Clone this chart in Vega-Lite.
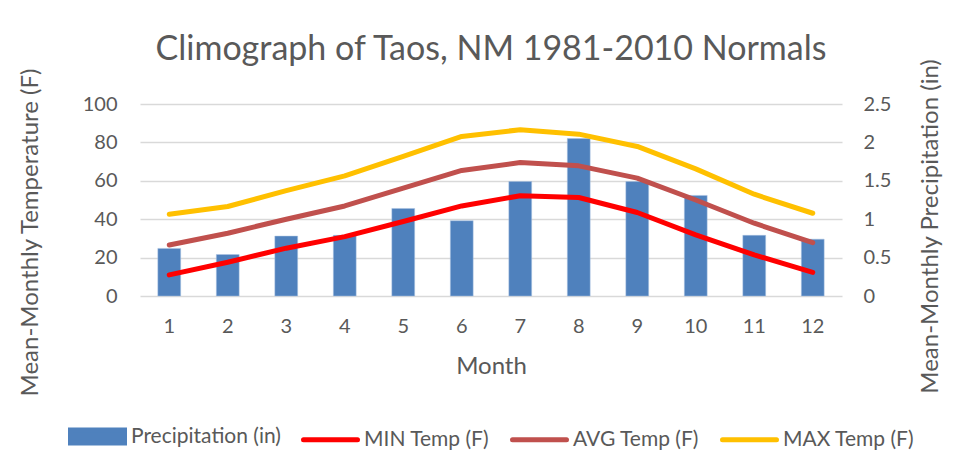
{
  "$schema": "https://vega.github.io/schema/vega-lite/v6.json",
  "width": 702,
  "height": 192,
  "autosize": "none",
  "padding": {"left": 140, "top": 104, "right": 112, "bottom": 173},
  "background": "white",
  "title": {
    "text": "Climograph of Taos, NM 1981-2010 Normals",
    "font": "Lato",
    "fontSize": 34,
    "fontWeight": "normal",
    "color": "#595959",
    "anchor": "middle",
    "offset": 40,
    "dy": 49
  },
  "data": {
    "values": [
      {"month": 1, "series": "Precipitation (in)", "value": 0.62},
      {"month": 2, "series": "Precipitation (in)", "value": 0.54},
      {"month": 3, "series": "Precipitation (in)", "value": 0.78},
      {"month": 4, "series": "Precipitation (in)", "value": 0.79},
      {"month": 5, "series": "Precipitation (in)", "value": 1.14},
      {"month": 6, "series": "Precipitation (in)", "value": 0.98},
      {"month": 7, "series": "Precipitation (in)", "value": 1.49},
      {"month": 8, "series": "Precipitation (in)", "value": 2.05},
      {"month": 9, "series": "Precipitation (in)", "value": 1.49},
      {"month": 10, "series": "Precipitation (in)", "value": 1.31},
      {"month": 11, "series": "Precipitation (in)", "value": 0.79},
      {"month": 12, "series": "Precipitation (in)", "value": 0.74},
      {"month": 1, "series": "MIN Temp (F)", "value": 11.0},
      {"month": 2, "series": "MIN Temp (F)", "value": 17.6},
      {"month": 3, "series": "MIN Temp (F)", "value": 24.9},
      {"month": 4, "series": "MIN Temp (F)", "value": 30.9},
      {"month": 5, "series": "MIN Temp (F)", "value": 38.8},
      {"month": 6, "series": "MIN Temp (F)", "value": 46.9},
      {"month": 7, "series": "MIN Temp (F)", "value": 52.2},
      {"month": 8, "series": "MIN Temp (F)", "value": 51.3},
      {"month": 9, "series": "MIN Temp (F)", "value": 43.5},
      {"month": 10, "series": "MIN Temp (F)", "value": 31.8},
      {"month": 11, "series": "MIN Temp (F)", "value": 21.4},
      {"month": 12, "series": "MIN Temp (F)", "value": 12.3},
      {"month": 1, "series": "AVG Temp (F)", "value": 26.6},
      {"month": 2, "series": "AVG Temp (F)", "value": 32.7},
      {"month": 3, "series": "AVG Temp (F)", "value": 40.0},
      {"month": 4, "series": "AVG Temp (F)", "value": 46.9},
      {"month": 5, "series": "AVG Temp (F)", "value": 56.2},
      {"month": 6, "series": "AVG Temp (F)", "value": 65.4},
      {"month": 7, "series": "AVG Temp (F)", "value": 69.5},
      {"month": 8, "series": "AVG Temp (F)", "value": 67.8},
      {"month": 9, "series": "AVG Temp (F)", "value": 61.4},
      {"month": 10, "series": "AVG Temp (F)", "value": 50.0},
      {"month": 11, "series": "AVG Temp (F)", "value": 37.9},
      {"month": 12, "series": "AVG Temp (F)", "value": 27.8},
      {"month": 1, "series": "MAX Temp (F)", "value": 42.6},
      {"month": 2, "series": "MAX Temp (F)", "value": 46.6},
      {"month": 3, "series": "MAX Temp (F)", "value": 54.9},
      {"month": 4, "series": "MAX Temp (F)", "value": 62.6},
      {"month": 5, "series": "MAX Temp (F)", "value": 72.7},
      {"month": 6, "series": "MAX Temp (F)", "value": 83.1},
      {"month": 7, "series": "MAX Temp (F)", "value": 86.6},
      {"month": 8, "series": "MAX Temp (F)", "value": 84.3},
      {"month": 9, "series": "MAX Temp (F)", "value": 77.9},
      {"month": 10, "series": "MAX Temp (F)", "value": 66.2},
      {"month": 11, "series": "MAX Temp (F)", "value": 53.0},
      {"month": 12, "series": "MAX Temp (F)", "value": 43.1}
    ]
  },
  "encoding": {
    "x": {
      "field": "month",
      "type": "ordinal",
      "scale": {"paddingInner": 0.61, "paddingOuter": 0.305},
      "axis": {
        "title": "Month",
        "labelAngle": 0,
        "domain": false,
        "ticks": false,
        "labelPadding": 20,
        "titlePadding": 18
      }
    },
    "color": {
      "field": "series",
      "type": "nominal",
      "scale": {
        "domain": ["Precipitation (in)", "MIN Temp (F)", "AVG Temp (F)", "MAX Temp (F)"],
        "range": ["#4F81BD", "#FF0000", "#C0504D", "#FFC000"]
      },
      "legend": {
        "title": null,
        "orient": "none",
        "direction": "horizontal",
        "legendX": -72,
        "legendY": 303,
        "symbolSize": 2916,
        "symbolStrokeWidth": 5,
        "labelOffset": 4,
        "columnPadding": 12,
        "labelFont": "Lato",
        "labelFontSize": 21,
        "labelColor": "#595959",
        "encode": {
          "symbols": {
            "update": {
              "shape": {"signal": "datum.value == 'Precipitation (in)' ? 'M-1,-0.24H1V0.24H-1Z' : 'M-1,0H1'"},
              "fill": {"signal": "datum.value == 'Precipitation (in)' ? '#4F81BD' : 'transparent'"},
              "stroke": {"signal": "datum.value == 'Precipitation (in)' ? 'transparent' : (datum.value == 'MIN Temp (F)' ? '#FF0000' : (datum.value == 'AVG Temp (F)' ? '#C0504D' : '#FFC000'))"},
              "strokeWidth": {"value": 5},
              "strokeCap": {"value": "round"},
              "opacity": {"value": 1}
            }
          }
        }
      }
    }
  },
  "layer": [
    {
      "transform": [{"filter": "datum.series == 'Precipitation (in)'"}],
      "mark": {"type": "bar", "stroke": "#A9C1E0", "strokeWidth": 0.5},
      "encoding": {
        "y": {
          "field": "value",
          "type": "quantitative",
          "scale": {"domain": [0, 2.5]},
          "axis": {
            "orient": "right",
            "title": "Mean-Monthly Precipitation (in)",
            "values": [0, 0.5, 1, 1.5, 2, 2.5],
            "format": ".1~f",
            "grid": false,
            "domain": false,
            "ticks": false,
            "labelPadding": 21,
            "titleAngle": -90,
            "titleX": 88,
            "titleY": 122,
            "titleAlign": "center",
            "titleBaseline": "middle"
          }
        }
      }
    },
    {
      "transform": [{"filter": "datum.series != 'Precipitation (in)'"}],
      "mark": {"type": "line", "strokeWidth": 5, "strokeCap": "round", "strokeJoin": "round"},
      "encoding": {
        "y": {
          "field": "value",
          "type": "quantitative",
          "scale": {"domain": [0, 100]},
          "axis": {
            "orient": "left",
            "title": "Mean-Monthly Temperature (F)",
            "values": [0, 20, 40, 60, 80, 100],
            "grid": true,
            "domain": false,
            "ticks": false,
            "labelPadding": 23,
            "titleAngle": -90,
            "titleX": -110,
            "titleY": 128,
            "titleAlign": "center",
            "titleBaseline": "middle"
          }
        }
      }
    }
  ],
  "resolve": {"scale": {"y": "independent"}},
  "config": {
    "view": {"stroke": null},
    "axis": {
      "labelFont": "Lato",
      "labelFontSize": 20,
      "labelColor": "#595959",
      "titleFont": "Lato",
      "titleFontSize": 24,
      "titleFontWeight": "normal",
      "titleColor": "#595959",
      "gridColor": "#D9D9D9",
      "gridWidth": 1.5
    }
  }
}
